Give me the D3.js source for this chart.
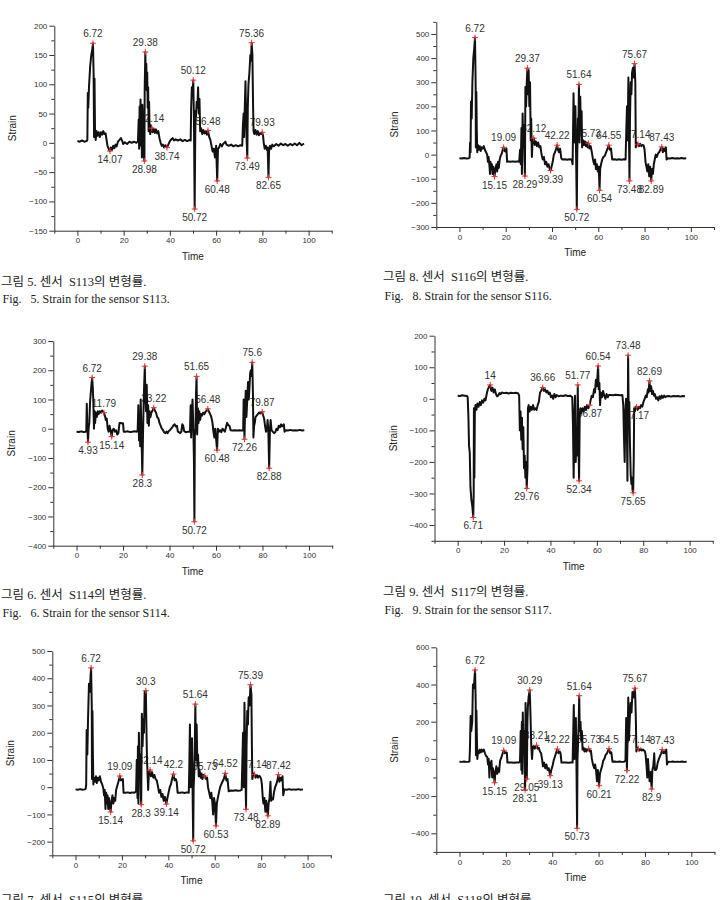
<!DOCTYPE html>
<html>
<head>
<meta charset="utf-8">
<script src="https://cdn.jsdelivr.net/npm/d3@7"></script>
<style>
  body { margin: 0; background: #fff; }
  svg { display: block; }
  .tick text { font-family: "Liberation Sans", Arial, sans-serif; font-size: 8px; fill: #333; }
  .axis path, .axis line { stroke: #333; }
</style>
</head>
<body>
<div id="container"></div>
<script>
// ---- data: [time, strain] ----
let s113Series = [[0,3],[1,2],[2,4],[3,2],[4,3],[4.3,5],[4.5,85],[4.7,60],[5.0,95],[5.5,130],[6.0,150],[6.4,158],[6.72,170],[7.0,120],[7.2,10],[7.4,110],[7.6,25],[7.9,5],[8.3,20],[8.7,12],[9.2,18],[9.7,10],[10.2,18],[10.7,14],[11.2,20],[11.7,15],[12.2,16],[12.6,5],[13.0,-5],[13.5,-10],[14.07,-14],[14.5,-8],[15,-12],[15.5,-5],[16,-9],[16.5,-3],[17,-6],[17.5,2],[18.2,5],[18.8,8],[19.3,4],[19.8,-2],[20.5,1],[21.5,-2],[22.5,2],[23.5,0],[24.5,2],[25.5,0],[26.2,3],[26.5,40],[26.7,-10],[26.9,62],[27.1,10],[27.3,74],[27.5,-5],[27.7,55],[27.9,-25],[28.1,65],[28.4,30],[28.7,-20],[28.98,-31],[29.1,90],[29.38,155],[29.6,110],[29.8,135],[30,90],[30.2,120],[30.4,60],[30.6,95],[30.8,20],[31,70],[31.2,30],[31.5,15],[31.8,30],[32.14,25],[32.5,18],[33,24],[33.5,17],[34,23],[34.5,16],[35,20],[35.5,8],[36,0],[36.5,-5],[37,-3],[37.5,-8],[38,-4],[38.74,-8],[39.3,-3],[40,3],[40.6,6],[41.2,8],[41.8,4],[42.5,6],[43.5,4],[44.5,6],[45.5,3],[46.5,5],[47.5,3],[48.5,5],[49,4],[49.2,60],[49.5,95],[49.8,80],[50.12,107],[50.4,40],[50.72,-113],[50.9,-20],[51.1,55],[51.3,45],[51.6,70],[51.9,60],[52.2,95],[52.5,50],[52.8,75],[53.1,20],[53.5,25],[54,15],[54.5,22],[55,16],[55.5,20],[56,14],[56.48,21],[57,10],[57.5,5],[58,-5],[58.5,-15],[59,-10],[59.5,-25],[60,-5],[60.48,-65],[60.8,-10],[61.3,-8],[61.8,-2],[62.5,-6],[63,-2],[63.5,0],[64,2],[64.5,-3],[65.5,-5],[66.5,-3],[67.5,-6],[68.5,-4],[69.5,-6],[70.5,-4],[71.3,-5],[71.6,30],[71.9,50],[72.1,10],[72.4,60],[72.7,105],[73,40],[73.2,5],[73.49,-26],[73.7,60],[74,100],[74.4,120],[74.8,150],[75.1,140],[75.36,171],[75.7,150],[76,60],[76.2,20],[76.5,15],[77,22],[77.5,14],[78,20],[78.5,13],[79,17],[79.5,15],[79.93,18],[80.3,12],[80.6,0],[81,-10],[81.5,-5],[82,-12],[82.3,-8],[82.65,-59],[82.9,-15],[83.3,-5],[83.8,-10],[84.3,-3],[85,-6],[86,-2],[87,-5],[88,-1],[89,-4],[90,-2],[91,-5],[92,-2],[93,-4],[94,-1],[95,-4],[96,0],[97,-4],[98,-1]];
let s113Max = [[6.72,170],[29.38,155],[50.12,107],[75.36,171],[32.14,25],[56.48,21],[79.93,18]];
let s113Min = [[14.07,-14],[28.98,-31],[38.74,-8],[50.72,-113],[60.48,-65],[73.49,-26],[82.65,-59]];

let s116Series = [[0,-15],[1,-16],[2,-14],[3,-16],[4,-15],[4.4,-12],[4.6,50],[4.8,10],[5.0,220],[5.3,150],[5.6,300],[6.0,400],[6.4,440],[6.72,485],[7.0,300],[7.1,30],[7.3,260],[7.5,100],[7.7,10],[8.0,40],[8.4,20],[8.8,35],[9.2,15],[9.6,30],[10,25],[10.5,35],[11,20],[11.5,10],[12,0],[12.3,-30],[12.6,-10],[13,-50],[13.2,-80],[13.4,-30],[13.7,-60],[14,-40],[14.3,-80],[14.6,-50],[15.15,-91],[15.5,-60],[16,-40],[16.3,-70],[16.7,-30],[17,-55],[17.4,-20],[17.8,-5],[18.3,5],[18.7,20],[19.09,30],[19.5,15],[20,12],[20.3,25],[20.6,-30],[21,-28],[22,-30],[23,-28],[24,-30],[25,-28],[25.8,-30],[26.2,20],[26.5,-40],[26.8,110],[27.0,-80],[27.3,170],[27.6,30],[27.9,120],[28.1,-20],[28.29,-89],[28.5,280],[28.8,200],[29.1,300],[29.37,358],[29.6,250],[29.9,350],[30.2,200],[30.5,300],[30.8,60],[31,150],[31.3,-10],[31.6,60],[32.12,68],[32.5,40],[33,55],[33.5,35],[34,50],[34.5,30],[35,35],[35.5,0],[36,-20],[36.5,-10],[37,-40],[37.5,-30],[38,-50],[38.5,-40],[39,-60],[39.39,-66],[39.8,-50],[40.3,-30],[40.8,0],[41.3,10],[41.8,25],[42.22,39],[42.6,20],[43,10],[43.5,25],[44,-15],[44.5,-20],[45.5,-19],[46.5,-21],[47.5,-19],[48.5,-20],[48.9,-40],[49.1,100],[49.3,254],[49.5,150],[49.8,50],[50.1,200],[50.4,0],[50.72,-227],[50.9,-10],[51.2,150],[51.4,80],[51.64,291],[51.9,50],[52.2,240],[52.5,100],[52.8,180],[53,30],[53.4,60],[53.8,40],[54.2,55],[54.6,35],[55,50],[55.4,30],[55.73,47],[56.2,25],[56.7,35],[57.2,10],[57.7,-20],[58.2,-40],[58.6,-20],[59,-60],[59.4,-40],[59.8,-70],[60.2,-50],[60.54,-148],[60.8,-60],[61.2,-40],[61.7,-20],[62.2,-10],[62.8,-5],[63.4,10],[64,25],[64.55,39],[65,20],[65.5,25],[66,-20],[67,-19],[68,-21],[69,-19],[70,-21],[71,-19],[71.8,-20],[72.1,100],[72.4,200],[72.7,60],[73,320],[73.2,120],[73.48,-109],[73.7,150],[74,300],[74.3,250],[74.6,340],[75,360],[75.3,320],[75.67,377],[76,300],[76.2,30],[76.5,50],[77.14,43],[77.6,35],[78.1,45],[78.6,35],[79.1,40],[79.6,38],[80,20],[80.4,-30],[80.8,-50],[81.2,-70],[81.6,-40],[82,-90],[82.4,-50],[82.89,-109],[83.2,-60],[83.6,-80],[84,-40],[84.4,-20],[84.8,0],[85.3,-10],[85.8,5],[86.3,10],[86.8,20],[87.43,32],[87.9,10],[88.3,25],[88.8,15],[89.2,30],[89.5,-20],[90,-15],[91,-16],[92,-14],[93,-16],[94,-15],[95,-16],[96,-14],[97,-16],[98,-15]];
let s116Max = [[6.72,485],[29.37,358],[51.64,291],[75.67,377],[19.09,30],[32.12,68],[42.22,39],[55.73,47],[64.55,39],[77.14,43],[87.43,32]];
let s116Min = [[15.15,-91],[28.29,-89],[39.39,-66],[50.72,-227],[60.54,-148],[73.48,-109],[82.89,-109]];

let s114Series = [[0,-10],[1,-11],[2,-9],[3,-11],[4,-10],[4.2,-5],[4.4,85],[4.6,20],[4.93,-46],[5.2,0],[5.5,20],[5.8,90],[6.1,120],[6.4,150],[6.72,175],[7.0,140],[7.2,100],[7.5,0],[7.8,60],[8.0,20],[8.3,55],[8.7,40],[9.1,60],[9.5,50],[10,60],[10.5,55],[11,62],[11.4,58],[11.79,55],[12.2,45],[12.6,30],[13,35],[13.4,0],[13.8,-10],[14.2,10],[14.6,-5],[15.14,-27],[15.5,-5],[16,0],[16.5,-10],[17,-5],[17.5,-20],[18,-15],[18.5,20],[19,20],[19.5,18],[20,19],[20.3,-10],[21,-10],[22,-9],[23,-11],[24,-10],[25,-9],[26,-10],[26.3,-5],[26.6,80],[26.9,-40],[27.1,50],[27.4,-60],[27.6,100],[27.9,0],[28.1,-80],[28.3,-158],[28.6,-20],[28.8,60],[29.1,150],[29.38,214],[29.6,120],[29.9,60],[30.2,150],[30.5,20],[30.8,80],[31.1,10],[31.4,60],[31.8,40],[32.2,55],[32.7,62],[33.22,72],[33.7,62],[34.2,55],[34.7,40],[35.2,35],[35.7,20],[36.2,10],[36.7,0],[37.2,-5],[37.7,-12],[38.2,-15],[38.7,-10],[39.2,-15],[39.7,-8],[40.2,-5],[40.7,0],[41.2,5],[41.7,12],[42.2,15],[42.7,8],[43.2,10],[43.6,-10],[44.1,-12],[44.6,-15],[45.1,-10],[45.5,15],[45.9,10],[46.3,-8],[47,-12],[48,-10],[48.8,-10],[49.1,80],[49.3,-30],[49.6,40],[49.9,100],[50.2,20],[50.5,-100],[50.72,-318],[50.9,-20],[51.2,0],[51.4,120],[51.65,179],[51.9,-20],[52.2,70],[52.5,20],[52.8,60],[53.2,30],[53.6,50],[54,45],[54.5,55],[55,50],[55.5,58],[56,62],[56.48,68],[57,58],[57.5,50],[58,40],[58.5,20],[58.9,-10],[59.3,-30],[59.7,0],[60.1,-40],[60.48,-73],[60.8,0],[61.3,-10],[61.8,-5],[62.3,-12],[62.8,0],[63.3,-5],[63.8,-10],[64.3,5],[64.8,20],[65.3,12],[65.8,10],[66.3,-5],[67,-6],[68,-5],[69,-6],[70,-5],[71,-6],[71.7,-5],[71.9,100],[72.26,-36],[72.5,60],[72.8,130],[73.1,40],[73.4,90],[73.8,160],[74.1,100],[74.4,140],[74.7,190],[75,200],[75.3,180],[75.6,227],[75.9,120],[76.1,-30],[76.4,10],[76.7,20],[77,40],[77.5,45],[78,50],[78.5,55],[79,52],[79.5,56],[79.87,58],[80.3,45],[80.7,35],[81.1,10],[81.5,-10],[81.9,-5],[82.2,30],[82.5,0],[82.88,-135],[83.2,-10],[83.5,30],[83.9,-5],[84.4,-10],[85,-15],[85.5,-12],[86,0],[86.5,-5],[87,10],[87.5,5],[88,15],[88.4,8],[88.8,12],[89.2,15],[89.5,-10],[90,-5],[91,-6],[92,-4],[93,-6],[94,-5],[95,-6],[96,-4],[97,-6],[98,-5]];
let s114Max = [[6.72,175],[29.38,214],[51.65,179],[75.6,227],[11.79,55],[33.22,72],[56.48,68],[79.87,58]];
let s114Min = [[4.93,-46],[15.14,-27],[28.3,-158],[50.72,-318],[60.48,-73],[72.26,-36],[82.88,-135]];

let s117Series = [[0,10],[1,9],[2,11],[3,10],[4,9],[4.3,5],[4.6,-50],[4.9,-150],[5.2,-170],[5.5,-280],[5.9,-320],[6.3,-340],[6.71,-376],[6.9,-300],[7.0,-30],[7.2,-250],[7.4,-40],[7.7,-20],[8.1,-35],[8.5,-15],[9,-25],[9.5,-10],[10,-20],[10.5,-5],[11,-12],[11.5,0],[12,-5],[12.5,15],[13,30],[13.5,38],[14,44],[14.5,25],[15,35],[15.5,20],[16,30],[16.5,15],[17,8],[17.5,10],[18,18],[18.5,15],[19,20],[20,18],[21,19],[22,17],[23,19],[24,18],[25,19],[26,18],[26.5,10],[26.8,-100],[27.1,-40],[27.4,-130],[27.7,-60],[28,-160],[28.3,-90],[28.6,-220],[28.9,-180],[29.2,-250],[29.5,-200],[29.76,-284],[30.1,-220],[30.3,-30],[30.6,-20],[31,-40],[31.5,-25],[32,-35],[32.5,-20],[33,-35],[33.5,-30],[34,-35],[34.5,-20],[35,-10],[35.5,20],[36,25],[36.66,36],[37.2,25],[37.7,30],[38.2,20],[38.7,25],[39.2,15],[39.7,20],[40.2,5],[40.7,10],[41.2,0],[41.7,15],[42.2,5],[42.7,12],[43.5,8],[44.5,10],[45.5,9],[46.5,11],[47.5,9],[48.5,10],[49.4,5],[49.7,-80],[50.0,-250],[50.3,-60],[50.6,10],[50.9,-200],[51.2,-120],[51.5,-180],[51.77,44],[52.0,-100],[52.34,-260],[52.6,-60],[52.9,-30],[53.3,-45],[53.8,-30],[54.3,-40],[54.8,-25],[55.3,-35],[55.8,-20],[56.3,-30],[56.87,-20],[57.3,-5],[57.8,10],[58.3,5],[58.8,30],[59.2,20],[59.6,60],[60,40],[60.54,104],[60.8,30],[61.1,50],[61.4,-20],[61.7,20],[62.2,5],[62.7,25],[63.2,10],[63.7,0],[64.2,15],[64.7,5],[65.2,12],[66,12],[67,11],[68,13],[69,12],[70,11],[71,12],[71.4,-20],[71.7,-120],[72,-200],[72.3,-40],[72.6,0],[72.9,-60],[73.2,-260],[73.48,138],[73.7,-20],[74,-10],[74.3,-150],[74.6,-240],[74.9,-270],[75.2,-250],[75.4,-290],[75.65,-298],[75.9,-200],[76.1,-30],[76.4,-40],[76.8,-25],[77.17,-26],[77.6,-35],[78.1,-25],[78.6,-30],[79.1,-20],[79.6,-25],[80.1,-10],[80.6,0],[81.1,10],[81.5,5],[82,30],[82.3,20],[82.69,57],[83,25],[83.4,40],[83.8,15],[84.2,25],[84.6,10],[85,15],[85.5,0],[86,5],[86.5,-5],[87,8],[87.5,0],[88,10],[88.5,3],[89,10],[89.5,5],[90,8],[91,9],[92,7],[93,9],[94,8],[95,9],[96,7],[97,9],[98,8]];
let s117Max = [[14,44],[36.66,36],[51.77,44],[60.54,104],[73.48,138],[82.69,57]];
let s117Min = [[6.71,-376],[29.76,-284],[52.34,-260],[56.87,-20],[75.65,-298],[77.17,-26]];

let s115Series = [[0,-8],[1,-9],[2,-7],[3,-9],[4,-8],[4.4,-5],[4.6,10],[4.8,210],[5.1,120],[5.4,250],[5.8,380],[6.2,350],[6.5,410],[6.72,438],[7.0,300],[7.1,30],[7.3,280],[7.5,120],[7.7,10],[8,35],[8.4,20],[8.8,40],[9.2,15],[9.6,35],[10,25],[10.5,40],[11,20],[11.5,10],[12,-5],[12.3,-30],[12.6,-10],[12.9,-80],[13.2,-20],[13.5,-60],[13.8,-30],[14.1,-80],[14.4,-40],[14.8,-70],[15.14,-91],[15.5,-50],[15.9,-30],[16.3,-60],[16.7,-40],[17.1,-50],[17.5,-10],[18,5],[18.5,20],[19.09,41],[19.5,25],[20,28],[20.4,30],[20.7,-20],[21.5,-20],[22.5,-19],[23.5,-21],[24.5,-19],[25.5,-20],[26.1,-15],[26.4,100],[26.7,-40],[26.9,150],[27.1,-60],[27.3,200],[27.6,60],[27.9,120],[28.1,-20],[28.3,-64],[28.6,270],[28.9,150],[29.2,250],[29.5,200],[29.8,350],[30.3,354],[30.6,200],[30.8,100],[31,60],[31.3,-10],[31.6,50],[32.14,63],[32.5,40],[33,55],[33.5,35],[34,45],[34.5,30],[35,25],[35.5,5],[36,-20],[36.5,-10],[37,-35],[37.5,-25],[38,-50],[38.5,-35],[39.14,-62],[39.6,-40],[40.1,-20],[40.6,0],[41.1,10],[41.6,30],[42.2,48],[42.7,25],[43.2,30],[43.6,20],[44,-20],[45,-20],[46,-19],[47,-21],[48,-19],[48.8,-20],[49.0,60],[49.3,230],[49.6,0],[49.9,150],[50.2,180],[50.5,-50],[50.72,-197],[50.9,0],[51.2,60],[51.4,150],[51.64,305],[51.9,100],[52.2,230],[52.5,80],[52.8,120],[53.1,40],[53.5,60],[53.9,35],[54.3,50],[54.7,30],[55.1,45],[55.73,41],[56.2,30],[56.7,35],[57.1,0],[57.6,-20],[58.1,-40],[58.5,-20],[58.9,-50],[59.3,-100],[59.7,-40],[60.1,-60],[60.53,-142],[60.9,-60],[61.3,-40],[61.8,-20],[62.3,0],[62.8,10],[63.3,20],[63.9,30],[64.52,51],[65,25],[65.5,30],[66,-15],[67,-12],[68,-13],[69,-11],[70,-13],[71,-12],[71.6,-10],[71.9,100],[72.2,200],[72.5,0],[72.8,310],[73.1,100],[73.48,-81],[73.7,150],[74,280],[74.3,230],[74.6,330],[75,300],[75.39,376],[75.8,340],[76,150],[76.2,30],[76.6,50],[77.14,47],[77.6,35],[78.1,45],[78.6,35],[79.1,42],[79.6,38],[80,30],[80.3,10],[80.7,-40],[81,-60],[81.4,-40],[81.8,-90],[82.2,-50],[82.5,-80],[82.89,-105],[83.2,-60],[83.6,-40],[84,20],[84.3,-50],[84.7,-40],[85.1,-45],[85.5,-20],[86,0],[86.5,10],[87,25],[87.42,46],[87.9,20],[88.4,35],[88.8,25],[89.2,40],[89.5,-30],[90,-8],[91,-9],[92,-7],[93,-9],[94,-8],[95,-9],[96,-7],[97,-9],[98,-8]];
let s115Max = [[6.72,438],[30.3,354],[51.64,305],[75.39,376],[19.09,41],[32.14,63],[42.2,48],[55.73,41],[64.52,51],[77.14,47],[87.42,46]];
let s115Min = [[15.14,-91],[28.3,-64],[39.14,-62],[50.72,-197],[60.53,-142],[73.48,-81],[82.89,-105]];

let s118Series = [[0,-15],[1,-16],[2,-14],[3,-16],[4,-15],[4.3,-12],[4.5,50],[4.8,230],[5.1,150],[5.5,200],[5.8,400],[6.2,380],[6.5,440],[6.72,478],[7.0,300],[7.1,20],[7.3,260],[7.5,120],[7.7,0],[8,45],[8.4,30],[8.8,50],[9.2,35],[9.6,50],[10,40],[10.5,50],[11,30],[11.5,15],[12,10],[12.3,-30],[12.6,0],[12.9,-100],[13.2,-20],[13.5,-40],[13.8,-10],[14.1,-100],[14.4,-50],[14.8,-80],[15.15,-128],[15.5,-70],[15.9,-40],[16.3,-80],[16.7,-50],[17.1,-70],[17.5,-10],[18,5],[18.5,25],[19.09,46],[19.5,30],[20,35],[20.4,35],[20.7,-20],[21.5,-20],[22.5,-19],[23.5,-21],[24.5,-19],[25.5,-20],[26.1,-15],[26.4,150],[26.7,-60],[26.9,200],[27.1,-80],[27.3,250],[27.6,80],[27.9,150],[28.1,-20],[28.31,-167],[28.5,300],[28.8,-20],[29.05,-108],[29.3,200],[29.5,280],[29.8,330],[30.29,370],[30.6,250],[30.8,150],[31,60],[31.3,0],[31.6,60],[32,70],[32.5,55],[33.21,73],[33.7,55],[34.2,60],[34.7,40],[35.2,30],[35.6,0],[36,-40],[36.5,-20],[37,-50],[37.5,-30],[38,-60],[38.5,-50],[39.13,-90],[39.6,-60],[40.1,-40],[40.6,-10],[41.1,10],[41.6,30],[42.22,53],[42.7,30],[43.2,40],[43.6,30],[44,-20],[45,-20],[46,-19],[47,-21],[48,-19],[48.8,-20],[49.0,100],[49.3,290],[49.6,0],[49.9,200],[50.2,220],[50.5,-80],[50.73,-373],[50.9,0],[51.2,100],[51.4,180],[51.64,340],[51.9,150],[52.2,200],[52.5,100],[52.8,150],[53.1,50],[53.5,60],[53.9,40],[54.3,55],[54.7,40],[55.1,50],[55.73,55],[56.2,40],[56.7,45],[57.1,0],[57.6,-30],[58.1,-50],[58.5,-30],[58.9,-60],[59.3,-120],[59.7,-60],[60.21,-144],[60.6,-80],[61,-60],[61.5,-40],[62,-10],[62.5,0],[63,20],[63.6,30],[64.5,55],[65,30],[65.5,35],[66,-15],[67,-14],[68,-16],[69,-14],[70,-16],[71,-15],[71.6,-10],[71.9,220],[72.22,-63],[72.5,100],[72.8,330],[73.1,100],[73.4,200],[73.8,300],[74.2,250],[74.6,360],[75,330],[75.67,380],[75.9,300],[76.1,200],[76.3,40],[76.7,60],[77.14,55],[77.6,45],[78.1,55],[78.6,45],[79.1,50],[79.6,45],[80,40],[80.3,20],[80.7,-40],[81,-100],[81.3,0],[81.6,-60],[82,-120],[82.4,-70],[82.9,-162],[83.2,-60],[83.6,-40],[84,30],[84.3,-60],[84.7,-60],[85.1,-50],[85.5,-20],[86,0],[86.5,15],[87,30],[87.43,50],[87.9,30],[88.4,40],[88.8,30],[89.2,50],[89.5,-30],[90,-15],[91,-16],[92,-14],[93,-16],[94,-15],[95,-16],[96,-14],[97,-16],[98,-15]];
let s118Max = [[6.72,478],[30.29,370],[51.64,340],[75.67,380],[19.09,46],[33.21,73],[42.22,53],[55.73,55],[64.5,55],[77.14,55],[87.43,50]];
let s118Min = [[15.15,-128],[29.05,-108],[28.31,-167],[39.13,-90],[50.73,-373],[60.21,-144],[72.22,-63],[82.9,-162]];

let timeTicks = [0, 20, 40, 60, 80, 100];
let timeMinorTicks = [-10, 10, 30, 50, 70, 90, 110];

let koCaptions = ["그림 5. 센서  S113의 변형률.", "그림 8. 센서  S116의 변형률.", "그림 6. 센서  S114의 변형률.",
                  "그림 9. 센서  S117의 변형률.", "그림 7. 센서  S115의 변형률.", "그림 10. 센서  S118의 변형률."];
let enCaptions = ["Fig.   5. Strain for the sensor S113.", "Fig.   8. Strain for the sensor S116.",
                  "Fig.   6. Strain for the sensor S114.", "Fig.   9. Strain for the sensor S117.",
                  "Fig.   7. Strain for the sensor S115.", "Fig.   10. Strain for the sensor S118."];

let w = 727;
let h = 900;

let viz = d3.select("#container")
  .append("svg")
  .attr("width", w)
  .attr("height", h);

viz.append("rect").attr("width", w).attr("height", h).attr("fill", "#fff");

// layout of the six panels
let panels = [
  { series: s113Series, maxima: s113Max, minima: s113Min, yDom: [-150, 200], major: 50,  left: 54.3,  right: 331.7, top: 25.7,  bottom: 230.7, capX: 1,   koY: 285.5, enY: 303 },
  { series: s116Series, maxima: s116Max, minima: s116Min, yDom: [-300, 550], major: 100, left: 436.3, right: 714,   top: 21.9,  bottom: 227,   capX: 383, koY: 280.5, enY: 300 },
  { series: s114Series, maxima: s114Max, minima: s114Min, yDom: [-400, 300], major: 100, left: 53.3,  right: 332.2, top: 341,   bottom: 545.7, capX: 1,   koY: 598.5, enY: 617 },
  { series: s117Series, maxima: s117Max, minima: s117Min, yDom: [-450, 200], major: 100, left: 434.5, right: 712.8, top: 335.7, bottom: 540.8, capX: 383, koY: 595.5, enY: 614 },
  { series: s115Series, maxima: s115Max, minima: s115Min, yDom: [-250, 500], major: 100, left: 52.3,  right: 330.8, top: 651,   bottom: 855.3, capX: 1,   koY: 904,   enY: 925 },
  { series: s118Series, maxima: s118Max, minima: s118Min, yDom: [-500, 600], major: 200, left: 436.3, right: 714.5, top: 647.3, bottom: 851.9, capX: 383, koY: 904,   enY: 925 }
];

panels.forEach((p, i) => drawPanel(p, i));

function drawPanel(p, i) {
  let g = viz.append("g").attr("class", "panel");

  let xScale = d3.scaleLinear().domain([-10, 110]).range([p.left, p.right]);
  let yScale = d3.scaleLinear().domain(p.yDom).range([p.bottom, p.top]);

  // major / minor y ticks
  let yMajor = d3.range(Math.ceil(p.yDom[0] / p.major) * p.major, p.yDom[1] + 1, p.major);
  let yMinor = d3.range(Math.ceil(p.yDom[0] / (p.major / 2)) * (p.major / 2), p.yDom[1] + 1, p.major / 2)
    .filter(v => yMajor.indexOf(v) < 0);

  // x axis
  let xMinorG = g.append("g").attr("class", "axis")
    .attr("transform", "translate(0," + p.bottom + ")")
    .call(d3.axisBottom(xScale).tickValues(timeMinorTicks).tickSize(3).tickSizeOuter(0).tickFormat(""));
  xMinorG.select(".domain").remove();
  g.append("g").attr("class", "axis")
    .attr("transform", "translate(0," + p.bottom + ")")
    .call(d3.axisBottom(xScale).tickValues(timeTicks).tickSize(5).tickSizeOuter(0).tickPadding(2));

  // y axis
  let yMinorG = g.append("g").attr("class", "axis")
    .attr("transform", "translate(" + p.left + ",0)")
    .call(d3.axisLeft(yScale).tickValues(yMinor).tickSize(3).tickSizeOuter(0).tickFormat(""));
  yMinorG.select(".domain").remove();
  g.append("g").attr("class", "axis")
    .attr("transform", "translate(" + p.left + ",0)")
    .call(d3.axisLeft(yScale).tickValues(yMajor).tickSize(5).tickSizeOuter(0).tickPadding(2));

  // axis titles
  g.append("text")
    .text("Time")
    .attr("x", (p.left + p.right) / 2)
    .attr("y", p.bottom + 29)
    .attr("text-anchor", "middle")
    .attr("font-family", "Liberation Sans, Arial, sans-serif")
    .attr("font-size", 10)
    .attr("fill", "#222");
  g.append("text")
    .text("Strain")
    .attr("transform", "translate(" + (p.left - 38) + "," + ((p.top + p.bottom) / 2) + ") rotate(-90)")
    .attr("text-anchor", "middle")
    .attr("font-family", "Liberation Sans, Arial, sans-serif")
    .attr("font-size", 10)
    .attr("fill", "#222");

  // peak labels (drawn under the curve, like the original)
  let labelFont = "Liberation Sans, Arial, sans-serif";
  g.selectAll(".maxLabel").data(p.maxima).enter().append("text")
    .attr("class", "maxLabel")
    .text(d => String(d[0]))
    .attr("x", d => xScale(d[0]))
    .attr("y", d => yScale(d[1]) - 6)
    .attr("text-anchor", "middle")
    .attr("font-family", labelFont)
    .attr("font-size", 10)
    .attr("fill", "#333");
  g.selectAll(".minLabel").data(p.minima).enter().append("text")
    .attr("class", "minLabel")
    .text(d => String(d[0]))
    .attr("x", d => xScale(d[0]))
    .attr("y", d => yScale(d[1]) + 12)
    .attr("text-anchor", "middle")
    .attr("font-family", labelFont)
    .attr("font-size", 10)
    .attr("fill", "#333");

  // strain curve
  let line = d3.line().x(d => xScale(d[0])).y(d => yScale(d[1]));
  g.append("path")
    .datum(p.series)
    .attr("d", line)
    .attr("fill", "none")
    .attr("stroke", "#111")
    .attr("stroke-width", 2)
    .attr("stroke-linejoin", "round");

  // red + markers
  let marks = p.maxima.concat(p.minima);
  g.selectAll(".mark").data(marks).enter().append("path")
    .attr("class", "mark")
    .attr("d", "M-3,0H3M0,-3V3")
    .attr("transform", d => "translate(" + xScale(d[0]) + "," + yScale(d[1]) + ")")
    .attr("stroke", "#e8343a")
    .attr("stroke-width", 1)
    .attr("fill", "none");

  // captions
  viz.append("text")
    .text(koCaptions[i])
    .attr("x", p.capX)
    .attr("y", p.koY)
    .attr("style", "white-space:pre")
    .attr("font-family", "Liberation Serif, Noto Sans CJK KR, serif")
    .attr("font-size", 12.5)
    .attr("fill", "#222");
  viz.append("text")
    .text(enCaptions[i])
    .attr("x", p.capX + 1.5)
    .attr("y", p.enY)
    .attr("style", "white-space:pre")
    .attr("font-family", "Liberation Serif, Times New Roman, serif")
    .attr("font-size", 12)
    .attr("fill", "#222");
}
</script>
</body>
</html>
